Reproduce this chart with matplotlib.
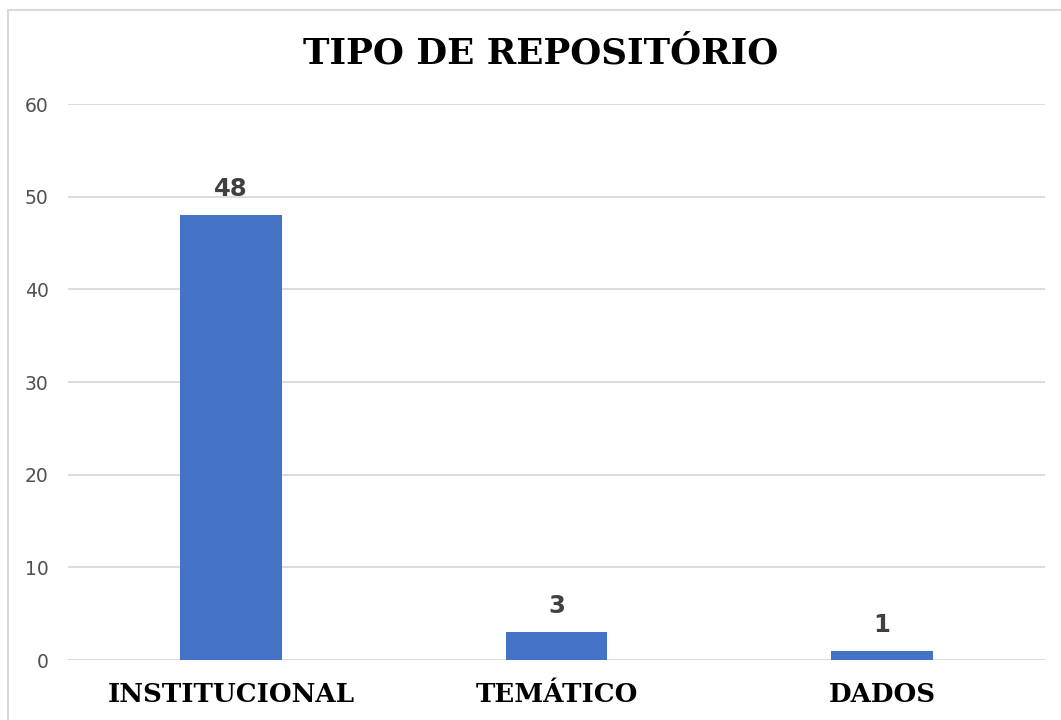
import matplotlib
matplotlib.use("Agg")
import matplotlib.pyplot as plt
from matplotlib.patches import Rectangle

categories = ["INSTITUCIONAL", "TEMÁTICO", "DADOS"]
values = [48, 3, 1]
yticks = [0, 10, 20, 30, 40, 50, 60]
title = "TIPO DE REPOSITÓRIO"

fig = plt.figure(figsize=(10.61, 7.2), dpi=100)
ax = fig.add_axes([68/1061, 1-660/720, (1045-68)/1061, (660-104)/720])

x = range(len(categories))
bars = ax.bar(x, values, width=0.313, color="#4472C4", zorder=3)
ax.set_xlim(-0.5, len(categories)-0.5)
ax.set_ylim(0, 60)
ax.set_yticks(yticks)
ax.yaxis.grid(True, color="#d9d9d9", linewidth=1.3, zorder=0)
for s in ax.spines.values():
    s.set_visible(False)
ax.tick_params(axis="y", length=0, labelsize=13.5, labelcolor="#505050", pad=14)
ax.tick_params(axis="x", length=0, pad=16)
ax.set_xticks(list(x))
ax.set_xticklabels(categories, fontsize=18.8, fontweight="bold", family="DejaVu Serif", color="black")

for b, v in zip(bars, values):
    ax.annotate(str(v), (b.get_x()+b.get_width()/2, v), xytext=(0, 10),
                textcoords="offset points", ha="center", va="bottom",
                fontsize=17.5, fontweight="bold", color="#404040")

fig.text(541/1061, 1-53/720, title, ha="center", va="center", fontsize=25.7,
         fontweight="bold", family="DejaVu Serif", color="black")

fig.patches.append(Rectangle((8/1061, -0.1), 1.2, 1-10/720+0.1, transform=fig.transFigure,
                             fill=False, edgecolor="#d9d9d9", linewidth=1.5))

fig.savefig("out.png", dpi=100)
